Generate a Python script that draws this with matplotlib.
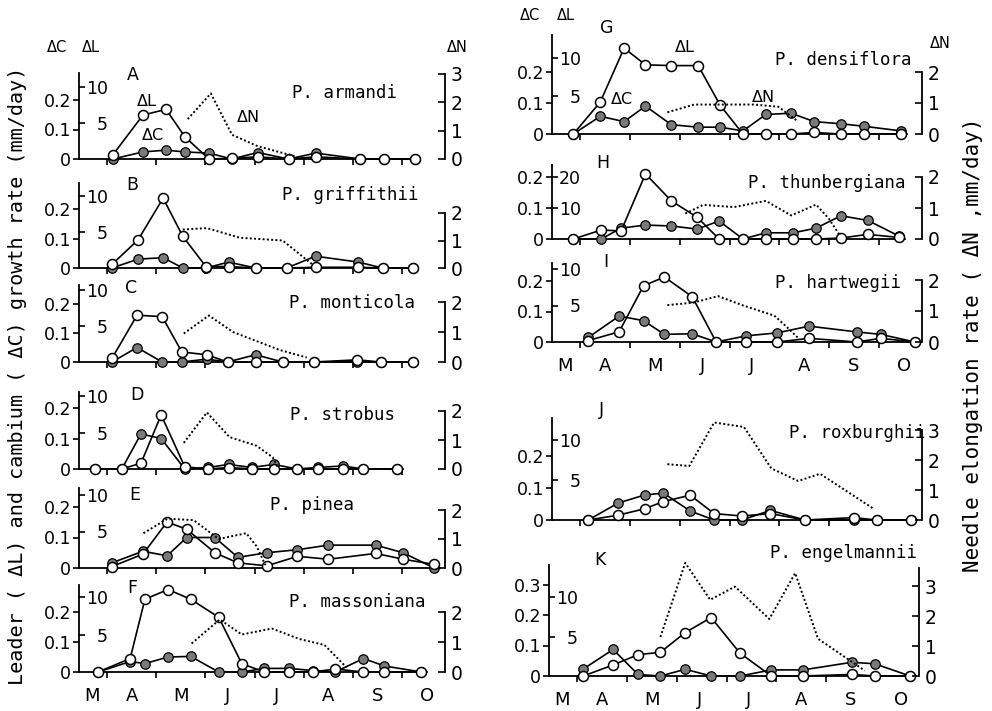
import matplotlib
matplotlib.use("Agg")
import matplotlib.pyplot as plt

# ---------------- data (x = month position: 1 = Apr 1, 2 = May 1, ...) ----------------
months = ["M", "A", "M", "J", "J", "A", "S", "O"]
month_pos = [0.70, 1.50, 2.50, 3.45, 4.45, 5.50, 6.50, 7.50]

A_dates = [1.12, 1.73, 2.20, 2.58, 3.07, 3.54, 4.06, 4.69, 5.24, 6.15, 6.62, 7.25]
A_L = [0.6, 6.1, 6.9, 3.1, 0.0, 0.1, 0.3, 0.0, 0.3, 0.0, 0.0, 0.0]
A_C = [0.0, 0.024, 0.030, 0.024, 0.020, 0.0, 0.022, 0.0, 0.020, 0.0, 0.0, 0.0]
A_Ndates = [2.64, 3.11, 3.54, 4.06, 4.81]
A_N = [1.4, 2.3, 0.85, 0.45, 0.1]

B_dates = [1.10, 1.63, 2.14, 2.54, 3.01, 3.47, 4.02, 4.65, 5.24, 6.11, 6.60, 7.21]
B_L = [0.5, 3.9, 9.7, 4.4, 0.2, 0.2, 0.0, 0.0, 0.1, 0.1, 0.0, 0.0]
B_C = [0.0, 0.030, 0.035, 0.0, 0.0, 0.020, 0.0, 0.0, 0.040, 0.020, 0.0, 0.0]
B_Ndates = [2.54, 3.03, 3.70, 4.57, 5.16]
B_N = [1.4, 1.45, 1.1, 1.0, 0.15]

C_dates = [1.10, 1.61, 2.12, 2.52, 3.03, 3.45, 4.02, 4.57, 5.20, 6.09, 6.56, 7.21]
C_L = [0.5, 6.5, 6.3, 1.4, 1.0, 0.0, 0.0, 0.0, 0.0, 0.3, 0.0, 0.0]
C_C = [0.0, 0.050, 0.0, 0.0, 0.010, 0.0, 0.025, 0.0, 0.0, 0.0, 0.0, 0.0]
C_Ndates = [2.56, 3.07, 3.56, 4.51, 5.06]
C_N = [0.95, 1.55, 1.0, 0.4, 0.15]

D_dates = [0.76, 1.30, 1.69, 2.10, 2.58, 3.05, 3.47, 3.94, 4.39, 4.87, 5.28, 5.79, 6.21, 6.90]
D_L = [0.0, 0.0, 0.8, 7.4, 0.3, 0.0, 0.2, 0.0, 0.0, 0.0, 0.0, 0.0, 0.0, 0.0]
D_C = [0.0, 0.0, 0.115, 0.100, 0.0, 0.005, 0.015, 0.005, 0.015, 0.0, 0.005, 0.010, 0.0, 0.0]
D_Ndates = [2.56, 3.03, 3.49, 4.04, 4.37, 4.47]
D_N = [0.9, 1.95, 1.1, 0.8, 0.4, 0.05]

E_dates = [1.10, 1.73, 2.22, 2.62, 3.19, 3.66, 4.25, 4.87, 5.50, 6.46, 7.02, 7.65]
E_L = [0.2, 1.9, 6.3, 5.3, 2.1, 0.7, 0.3, 1.6, 1.2, 2.0, 1.2, 0.5]
E_C = [0.017, 0.055, 0.040, 0.100, 0.100, 0.035, 0.050, 0.060, 0.075, 0.075, 0.050, 0.0]
E_Ndates = [1.74, 2.23, 2.76, 3.27, 3.83, 4.04, 4.22]
E_N = [1.2, 1.7, 1.65, 1.0, 1.2, 0.75, 0.1]

F_dates = [0.82, 1.47, 1.77, 2.24, 2.70, 3.27, 3.74, 4.20, 4.69, 5.18, 5.64, 6.21, 6.64, 7.39]
F_L = [0.0, 1.8, 9.7, 11.0, 9.7, 7.3, 1.1, 0.0, 0.0, 0.0, 0.4, 0.0, 0.0, 0.0]
F_C = [0.0, 0.035, 0.028, 0.050, 0.052, 0.0, 0.0, 0.012, 0.012, 0.005, 0.0, 0.045, 0.020, 0.0]
F_Ndates = [2.72, 3.29, 3.74, 4.35, 4.91, 5.42, 5.87]
F_N = [0.95, 1.75, 1.25, 1.45, 1.1, 0.9, 0.15]

G_dates = [0.86, 1.40, 1.88, 2.31, 2.83, 3.37, 3.81, 4.27, 4.73, 5.24, 5.70, 6.24, 6.70, 7.45]
G_L = [0.0, 4.2, 11.3, 9.1, 9.0, 9.0, 3.8, 0.0, 0.0, 0.0, 0.2, 0.0, 0.0, 0.0]
G_C = [0.0, 0.057, 0.040, 0.090, 0.030, 0.022, 0.022, 0.010, 0.063, 0.067, 0.040, 0.033, 0.025, 0.010]
G_Ndates = [2.75, 3.29, 3.83, 4.49, 4.98, 5.38]
G_N = [0.7, 0.95, 0.95, 0.95, 0.88, 0.4]

H_dates = [0.86, 1.42, 1.82, 2.31, 2.83, 3.35, 3.79, 4.27, 4.73, 5.28, 5.74, 6.24, 6.78, 7.40]
H_L = [0.0, 2.9, 2.6, 21.0, 12.3, 7.0, 0.0, 0.0, 0.0, 0.0, 0.0, 0.3, 1.5, 0.5]
H_C = [0.0, 0.0, 0.035, 0.045, 0.042, 0.032, 0.058, 0.0, 0.020, 0.020, 0.035, 0.075, 0.060, 0.010]
H_Ndates = [3.11, 3.47, 4.09, 4.73, 5.24, 5.74, 6.00, 6.20]
H_N = [0.82, 1.1, 1.03, 1.23, 0.76, 1.11, 0.65, 0.16]

I_dates = [1.16, 1.78, 2.27, 2.69, 3.25, 3.73, 4.33, 4.96, 5.60, 6.56, 7.04, 7.73]
I_L = [0.2, 1.4, 7.7, 8.9, 6.2, 0.0, 0.0, 0.0, 0.5, 0.0, 0.5, 0.0]
I_C = [0.015, 0.085, 0.070, 0.025, 0.027, 0.0, 0.020, 0.030, 0.052, 0.033, 0.025, 0.0]
I_Ndates = [2.75, 3.27, 3.77, 4.27, 4.90, 5.14, 5.38]
I_N = [1.19, 1.27, 1.48, 1.18, 0.85, 0.5, 0.13]

J_dates = [1.16, 1.76, 2.29, 2.67, 3.21, 3.69, 4.25, 4.82, 5.52, 6.50, 6.96, 7.65]
J_L = [0.0, 0.6, 1.4, 2.3, 3.1, 0.8, 0.5, 0.8, 0.0, 0.3, 0.0, 0.0]
J_C = [0.0, 0.053, 0.078, 0.084, 0.028, 0.0, 0.0, 0.030, 0.0, 0.0, 0.0, 0.0]
J_Ndates = [2.75, 3.19, 3.69, 4.29, 4.84, 5.38, 5.82, 6.90]
J_N = [1.86, 1.8, 3.25, 3.1, 1.72, 1.3, 1.54, 0.37]

K_dates = [1.12, 1.72, 2.22, 2.67, 3.17, 3.69, 4.27, 4.90, 5.54, 6.52, 6.98, 7.69]
K_L = [0.0, 1.4, 2.7, 3.0, 5.5, 7.4, 2.9, 0.0, 0.0, 0.2, 0.0, 0.0]
K_C = [0.023, 0.087, 0.005, 0.0, 0.022, 0.0, 0.0, 0.020, 0.020, 0.045, 0.040, 0.0]
K_Ndates = [2.67, 3.17, 3.67, 4.17, 4.86, 5.38, 5.84, 6.78]
K_N = [1.3, 3.77, 2.54, 2.98, 1.9, 3.43, 1.24, 0.18]

letters = ["A", "B", "C", "D", "E", "F", "G", "H", "I", "J", "K"]
species = ["P. armandi", "P. griffithii", "P. monticola", "P. strobus", "P. pinea",
           "P. massoniana", "P. densiflora", "P. thunbergiana", "P. hartwegii",
           "P. roxburghii", "P. engelmannii"]

series = {
    "A": (A_dates, A_L, A_C, A_Ndates, A_N), "B": (B_dates, B_L, B_C, B_Ndates, B_N),
    "C": (C_dates, C_L, C_C, C_Ndates, C_N), "D": (D_dates, D_L, D_C, D_Ndates, D_N),
    "E": (E_dates, E_L, E_C, E_Ndates, E_N), "F": (F_dates, F_L, F_C, F_Ndates, F_N),
    "G": (G_dates, G_L, G_C, G_Ndates, G_N), "H": (H_dates, H_L, H_C, H_Ndates, H_N),
    "I": (I_dates, I_L, I_C, I_Ndates, I_N), "J": (J_dates, J_L, J_C, J_Ndates, J_N),
    "K": (K_dates, K_L, K_C, K_Ndates, K_N),
}

# ---------------- layout (pixels) ----------------
W, Hh = 992, 711
AXH = 125
MONO = "DejaVu Sans Mono"
SANS = "DejaVu Sans"

# key: (xL, xR, baseline, px per 0.1 C, px per 1 L, px per 1 N, spine top, C ticks, L ticks, N ticks, N top, months?)
layout = {
    "A": (79, 445, 159, 29.5, 7.2, 28.5, 73, [0, 0.1, 0.2], [5, 10], [0, 1, 2, 3], 3, False),
    "B": (79, 445, 268, 29.5, 7.2, 27.5, 183, [0, 0.1, 0.2], [5, 10], [0, 1, 2], 2, False),
    "C": (79, 445, 362, 29.0, 7.2, 30.0, 285, [0, 0.1, 0.2], [5, 10], [0, 1, 2], 2, False),
    "D": (79, 445, 469, 30.5, 7.3, 29.0, 392, [0, 0.1, 0.2], [5, 10], [0, 1, 2], 2, False),
    "E": (79, 445, 568, 30.5, 7.3, 29.0, 488, [0, 0.1, 0.2], [5, 10], [0, 1, 2], 2, False),
    "F": (79, 445, 672, 30.0, 7.5, 30.0, 585, [0, 0.1, 0.2], [5, 10], [0, 1, 2], 2, True),
    "G": (552, 922, 134, 31.0, 7.6, 31.0, 35, [0, 0.1, 0.2], [5, 10], [0, 1, 2], 2, False),
    "H": (552, 922, 239, 31.0, 3.1, 31.0, 165, [0, 0.1, 0.2], [10, 20], [0, 1, 2], 2, False),
    "I": (552, 922, 342, 30.5, 7.3, 31.0, 263, [0, 0.1, 0.2], [5, 10], [0, 1, 2], 2, True),
    "J": (552, 922, 520, 32.0, 8.0, 30.0, 418, [0, 0.1, 0.2], [5, 10], [0, 1, 2, 3], 3, False),
    "K": (549, 919, 676, 30.5, 7.9, 30.0, 565, [0, 0.1, 0.2, 0.3], [5, 10], [0, 1, 2, 3], 3.6, True),
}

letter_pos = {"A": (133, 75), "B": (132, 185), "C": (131, 288), "D": (137, 395), "E": (135, 495),
              "F": (132, 588), "G": (607, 28), "H": (603, 163), "I": (606, 262), "J": (601, 410),
              "K": (600, 560)}
species_pos = {"A": (345, 93), "B": (350, 195), "C": (352, 303), "D": (343, 415), "E": (312, 505),
               "F": (357, 602), "G": (843, 60), "H": (827, 183), "I": (838, 283), "J": (857, 433),
               "K": (843, 553)}

XMIN, XMAX = 0.43, 7.87

fig = plt.figure(figsize=(W / 100, Hh / 100), dpi=100)
fig.patch.set_facecolor("white")


def fx(x):
    return x / W


def fy(y):
    return 1 - y / Hh


for key in letters:
    xL, xR, base, pC, pL, pN, stop, cT, lT, nT, nTop, mlab = layout[key]
    dates, Lv, Cv, Nd, Nv = series[key]
    ax = fig.add_axes([fx(xL), fy(base), (xR - xL) / W, AXH / Hh])
    ax.patch.set_visible(False)
    ax.set_xlim(XMIN, XMAX)
    ax.set_ylim(0, AXH / pC * 0.1)
    ax.spines["top"].set_visible(False)
    ax.spines["right"].set_visible(False)
    ax.spines["left"].set_bounds(0, (base - stop) / pC * 0.1)
    ax.spines["bottom"].set_bounds(XMIN, max(dates) + 0.12)
    for s in ("left", "bottom"):
        ax.spines[s].set_linewidth(1.3)
    ax.set_yticks(cT)
    ax.set_yticklabels(["0" if v == 0 else f"{v:.1f}" for v in cT], family=SANS)
    ax.tick_params(axis="y", direction="out", length=4, width=1.2, pad=1.5, labelsize=12.5)
    ax.set_xticks(range(1, 8))
    ax.set_xticklabels([])
    ax.tick_params(axis="x", which="major", direction="out", length=4, width=1.2)
    if mlab:
        ax.set_xticks(month_pos, minor=True)
        ax.set_xticklabels(months, minor=True, family=SANS)
        ax.tick_params(axis="x", which="minor", length=0, pad=11, labelsize=13)
    ax.plot(dates, Cv, "-o", color="black", lw=1.2, ms=6.8, mfc="#7a7a7a", mec="black",
            mew=0.9, clip_on=False, zorder=3)

    axL = ax.twinx()
    axL.set_ylim(0, AXH / pL)
    for s in axL.spines.values():
        s.set_visible(False)
    axL.spines["right"].set_position(("axes", 0))
    axL.set_yticks(lT)
    axL.set_yticklabels([str(v) for v in lT], ha="right", family=SANS)
    axL.tick_params(axis="y", direction="out", length=4, width=1.2, pad=17, labelsize=12.5)
    axL.plot(dates, Lv, "-o", color="black", lw=1.2, ms=7.2, mfc="white", mec="black",
             mew=1.1, clip_on=False, zorder=4)

    axN = ax.twinx()
    axN.set_ylim(0, AXH / pN)
    for s in ("top", "left", "bottom"):
        axN.spines[s].set_visible(False)
    axN.spines["right"].set_bounds(0, nTop)
    axN.spines["right"].set_linewidth(1.3)
    axN.set_yticks(nT)
    axN.set_yticklabels([str(v) for v in nT], family=SANS)
    axN.tick_params(axis="y", direction="in", length=5, width=1.2, pad=4, labelsize=13.5)
    axN.plot(Nd, Nv, color="black", lw=1.4, ls=(0, (1, 1.2)), clip_on=False)

    lx, ly = letter_pos[key]
    fig.text(fx(lx), fy(ly), key, ha="center", va="center", family=SANS, fontsize=12.5)
    sx, sy = species_pos[key]
    fig.text(fx(sx), fy(sy), species[letters.index(key)], ha="center", va="center",
             family=MONO, fontsize=12.5)

# in-panel curve labels
for (x, y, t) in [(147, 101, "ΔL"), (153, 136, "ΔC"), (248, 118, "ΔN"),
                  (685, 48, "ΔL"), (622, 100, "ΔC"), (763, 97, "ΔN")]:
    fig.text(fx(x), fy(y), t, ha="center", va="center", family=SANS, fontsize=11.5)

# column headers
for (x, y, t) in [(57, 47, "ΔC"), (91, 47, "ΔL"), (457, 47, "ΔN"),
                  (530, 16, "ΔC"), (566, 16, "ΔL"), (940, 43, "ΔN")]:
    fig.text(fx(x), fy(y), t, ha="center", va="center", family=SANS, fontsize=10.5)

fig.text(fx(18), fy(376), "Leader ( ΔL) and cambium ( ΔC) growth rate (mm/day)",
         rotation=90, ha="center", va="center", family=MONO, fontsize=14.5)
fig.text(fx(973), fy(345), "Needle elongation rate ( ΔN ,mm/day)",
         rotation=90, ha="center", va="center", family=MONO, fontsize=15)

fig.savefig("out.png", dpi=100, facecolor="white")
